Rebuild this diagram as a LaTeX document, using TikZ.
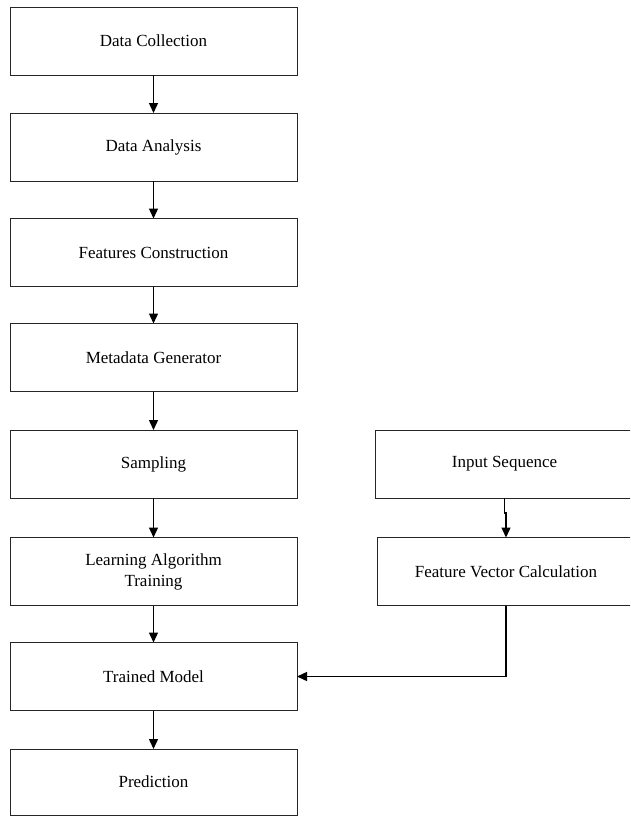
\documentclass[tikz,border=0pt]{standalone}
\usepackage{fontspec}
\setmainfont{Liberation Serif}
\usetikzlibrary{arrows.meta}
\begin{document}
\begin{tikzpicture}[x=1pt,y=-1pt,
  box/.style={draw=black!85,line width=0.9pt,minimum width=287pt,minimum height=68pt,inner sep=0pt,outer sep=0pt,align=center,font=\fontsize{17}{21}\selectfont},
  rbox/.style={box,minimum width=258pt},
  arr/.style={draw=black,line width=1.4pt,-{Triangle[length=10pt,width=9pt]}},
  conn/.style={draw=black,line width=1.4pt}]
\useasboundingbox (0,0) rectangle (630,816);
\clip (0,0) rectangle (630,816);
\fill[white] (0,0) rectangle (630,816);
\node[box] (dc) at (153.5,41) {Data Collection};
\node[box] (da) at (153.5,147) {Data Analysis};
\node[box] (fc) at (153.5,252.5) {Features Construction};
\node[box] (mg) at (153.5,357.5) {Metadata Generator};
\node[box] (sa) at (153.5,464) {Sampling};
\node[box] (la) at (153.5,571.5) {Learning Algorithm\\Training};
\node[box] (tm) at (153.5,676.5) {Trained Model};
\node[box,minimum height=66pt] (pr) at (153.5,782) {Prediction};
\node[rbox] (is) at (504.5,464) {Input Sequence};
\node[rbox] (fv) at (506,571.5) {Feature Vector Calculation};
\draw[arr] (dc) -- (da);
\draw[arr] (da) -- (fc);
\draw[arr] (fc) -- (mg);
\draw[arr] (mg) -- (sa);
\draw[arr] (sa) -- (la);
\draw[arr] (la) -- (tm);
\draw[arr] (tm) -- (pr);
\draw[arr] (is.south) -- ++(0,15) -| (fv.north);
\draw[arr] (fv.south) |- (tm.east);
\end{tikzpicture}
\end{document}
